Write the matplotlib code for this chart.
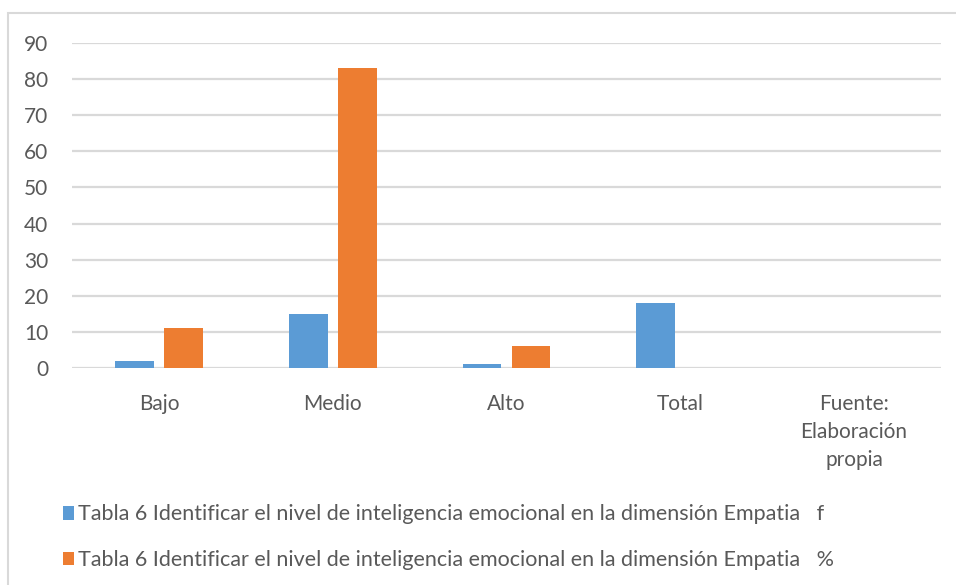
import numpy as np
import matplotlib.pyplot as plt
from matplotlib.patches import Rectangle

plt.rcParams["font.family"] = ["Lato", "DejaVu Sans"]
plt.rcParams["font.size"] = 11

# Data
categories = ["Bajo", "Medio", "Alto", "Total", "Fuente:\nElaboración\npropia"]
f_values = [2, 15, 1, 18, np.nan]
pct_values = [11, 83, 6, np.nan, np.nan]
series_labels = [
    "Tabla 6 Identificar el nivel de inteligencia emocional en la dimensión Empatia   f",
    "Tabla 6 Identificar el nivel de inteligencia emocional en la dimensión Empatia   %",
]

blue = "#5b9bd5"
orange = "#ed7d31"
grey_text = "#595959"
grid_col = "#d9d9d9"

fig = plt.figure(figsize=(9.56, 5.85), dpi=100)
W, H = 956, 585
ax = fig.add_axes([72 / W, 1 - 368 / H, (941 - 72) / W, (368 - 43) / H])

x = np.arange(len(categories))
w = 0.224
off = 0.141
b1 = ax.bar(x - off, f_values, width=w, color=blue, label=series_labels[0], zorder=3)
b2 = ax.bar(x + off, pct_values, width=w, color=orange, label=series_labels[1], zorder=3)

ax.set_xlim(-0.5, len(categories) - 0.5)
ax.set_ylim(0, 90)
ax.set_yticks(range(0, 91, 10))
ax.yaxis.grid(True, color=grid_col, linewidth=1.6, zorder=0)
ax.set_axisbelow(True)
for s in ax.spines.values():
    s.set_visible(False)
ax.tick_params(axis="both", length=0, colors=grey_text, labelsize=15)
ax.tick_params(axis="y", pad=17)
ax.tick_params(axis="x", pad=19)
ax.set_xticks(x)
ax.set_xticklabels(categories, linespacing=1.5, va="top")

# Outer chart border
fig.patches.append(Rectangle((8 / W, -0.1), 1.1, 1 - 13 / H + 0.1,
                             transform=fig.transFigure, fill=False,
                             edgecolor=grid_col, linewidth=1.5))

leg = fig.legend(handles=[b1, b2], loc="upper left",
                 bbox_to_anchor=(44 / W, 1 - 485 / H), frameon=False,
                 handlelength=0.5, handleheight=0.6, handletextpad=0.2,
                 labelspacing=1.2, fontsize=15.5, labelcolor=grey_text)

fig.savefig("out.png", dpi=100)
